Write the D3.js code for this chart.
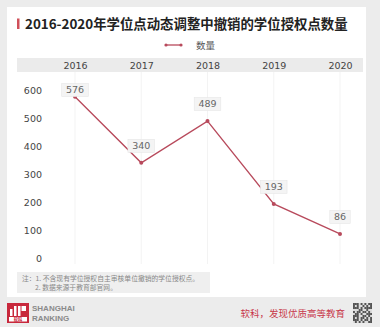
<!DOCTYPE html>
<html>
<head>
<meta charset="utf-8">
<script src="https://cdn.jsdelivr.net/npm/d3@7"></script>
<style>
  html, body { margin: 0; padding: 0; background: #ececec; }
  svg { display: block; }
</style>
</head>
<body>
<svg id="chart" width="380" height="327"></svg>
<script>
// Revoked degree-authorisation points, 2016–2020
const years = ["2016", "2017", "2018", "2019", "2020"];
const counts = [576, 340, 489, 193, 86];
const yTicks = [0, 100, 200, 300, 400, 500, 600];
const seriesName = "数量";
const titleText = "2016-2020年学位点动态调整中撤销的学位授权点数量";
const notes = ["注：1. 不含现有学位授权自主审核单位撤销的学位授权点。", "2. 数据来源于教育部官网。"];

const cjk = "'Noto Sans CJK SC', 'Noto Sans', sans-serif";
const num = "'DejaVu Sans', Verdana, sans-serif";
const lineColor = "#b84a5c";
const brandRed = "#c8283c";

const svg = d3.select("#chart");

// page background and white card
svg.append("rect").attr("width", 380).attr("height", 327).attr("fill", "#ececec");
svg.append("rect").attr("x", 7).attr("y", 7).attr("width", 359).attr("height", 290).attr("fill", "#ffffff");

// title with accent bar
svg.append("rect").attr("x", 17).attr("y", 18.5).attr("width", 2.5).attr("height", 10.5).attr("fill", "#d0505a");
svg.append("text").attr("x", 25).attr("y", 28.5)
  .attr("font-family", cjk).attr("font-weight", "bold").attr("font-size", 13.4)
  .attr("fill", "#222").text(titleText);

// legend
svg.append("line").attr("x1", 166).attr("x2", 181).attr("y1", 45).attr("y2", 45)
  .attr("stroke", lineColor).attr("stroke-width", 1.3);
svg.append("circle").attr("cx", 166).attr("cy", 45).attr("r", 1.6).attr("fill", lineColor);
svg.append("circle").attr("cx", 181).attr("cy", 45).attr("r", 1.6).attr("fill", lineColor);
svg.append("text").attr("x", 196).attr("y", 48.5)
  .attr("font-family", cjk).attr("font-size", 9.5).attr("fill", "#555").text(seriesName);

// scales
const x = d3.scalePoint().domain(years).range([75, 340]);
const y = d3.scaleLinear().domain([0, 600]).range([258, 90]);

// header band carrying the year labels
svg.append("rect").attr("x", 17).attr("y", 58).attr("width", 346).attr("height", 14).attr("fill", "#ebebeb");
const xAxis = d3.axisTop(x).tickSize(0).tickPadding(0);
const gx = svg.append("g").attr("transform", "translate(0,69)").call(xAxis);
gx.select(".domain").remove();
gx.selectAll("text").attr("font-family", num).attr("font-size", 9.5).attr("fill", "#444");

// faint vertical gridlines at each year
svg.append("g").selectAll("line").data(years).join("line")
  .attr("x1", d => x(d)).attr("x2", d => x(d))
  .attr("y1", 72).attr("y2", 264)
  .attr("stroke", "#f3f3f3").attr("stroke-width", 1);

// y axis labels
const yAxis = d3.axisLeft(y).tickValues(yTicks).tickSize(0).tickPadding(0);
const gy = svg.append("g").attr("transform", "translate(42,0)").call(yAxis);
gy.select(".domain").remove();
gy.selectAll("text").attr("font-family", num).attr("font-size", 9.5).attr("fill", "#444")
  .attr("text-anchor", "end");

// line and points
const data = years.map((yr, i) => ({ year: yr, value: counts[i] }));
const line = d3.line().x(d => x(d.year)).y(d => y(d.value));
svg.append("path").datum(data).attr("d", line)
  .attr("fill", "none").attr("stroke", lineColor).attr("stroke-width", 1.3);
svg.append("g").selectAll("circle").data(data).join("circle")
  .attr("cx", d => x(d.year)).attr("cy", d => y(d.value)).attr("r", 2)
  .attr("fill", lineColor);

// value labels in light boxes
const lbl = svg.append("g").selectAll("g").data(data).join("g")
  .attr("transform", d => `translate(${x(d.year)},${Math.max(y(d.value) - 17, 90)})`);
lbl.append("rect")
  .attr("x", d => -(String(d.value).length * 3.1 + 4))
  .attr("y", -6.5)
  .attr("width", d => String(d.value).length * 6.2 + 8)
  .attr("height", 13)
  .attr("fill", "#f4f4f4").attr("stroke", "#e6e6e6").attr("stroke-width", 0.6);
lbl.append("text").attr("text-anchor", "middle").attr("dy", "0.35em")
  .attr("font-family", num).attr("font-size", 9.5).attr("fill", "#666")
  .text(d => d.value);

// footnote box
svg.append("rect").attr("x", 17).attr("y", 272).attr("width", 193).attr("height", 21).attr("fill", "#efefef");
svg.append("text").attr("x", 22).attr("y", 281)
  .attr("font-family", cjk).attr("font-size", 6.8).attr("fill", "#888").text(notes[0]);
svg.append("text").attr("x", 35).attr("y", 290)
  .attr("font-family", cjk).attr("font-size", 6.8).attr("fill", "#888").text(notes[1]);

// brand mark
const logo = svg.append("g").attr("transform", "translate(7,303)");
logo.append("rect").attr("width", 22).attr("height", 20).attr("fill", brandRed);
logo.append("rect").attr("x", 3).attr("y", 6).attr("width", 2.5).attr("height", 7).attr("fill", "#fff");
logo.append("rect").attr("x", 7).attr("y", 3).attr("width", 2.5).attr("height", 10).attr("fill", "#fff");
logo.append("rect").attr("x", 11).attr("y", 3).attr("width", 2.5).attr("height", 10).attr("fill", "#fff");
logo.append("rect").attr("x", 14.5).attr("y", 3).attr("width", 4.5).attr("height", 5).attr("fill", "#fff");
logo.append("rect").attr("x", 2).attr("y", 14).attr("width", 18).attr("height", 4.5).attr("fill", "#fff");
logo.append("text").attr("x", 11).attr("y", 17.8).attr("text-anchor", "middle")
  .attr("font-family", cjk).attr("font-size", 4.2).attr("font-weight", "bold").attr("fill", brandRed).text("软科");
svg.append("text").attr("x", 32).attr("y", 311)
  .attr("font-family", "'Liberation Sans', Arial, sans-serif").attr("font-weight", "bold")
  .attr("font-size", 8).attr("fill", "#8a8a8a").text("SHANGHAI");
svg.append("text").attr("x", 32).attr("y", 321)
  .attr("font-family", "'Liberation Sans', Arial, sans-serif").attr("font-weight", "bold")
  .attr("font-size", 8).attr("fill", "#8a8a8a").text("RANKING");

// slogan
svg.append("text").attr("x", 345).attr("y", 317).attr("text-anchor", "end")
  .attr("font-family", cjk).attr("font-size", 9.5).attr("fill", "#c8384a").text("软科，发现优质高等教育");

// QR-style code block
const qr = svg.append("g").attr("transform", "translate(353,303)");
qr.append("rect").attr("width", 19).attr("height", 20).attr("fill", "#dcdcdc");
const qrRows = [
  "1110101011",
  "1010010101",
  "1110101111",
  "0001100100",
  "1011011010",
  "0110100111",
  "1110011010",
  "1010110101",
  "1110101101",
  "0101010011"
];
qrRows.forEach((row, r) => {
  row.split("").forEach((c, k) => {
    if (c === "1") qr.append("rect").attr("x", k * 1.9).attr("y", r * 2)
      .attr("width", 1.9).attr("height", 2).attr("fill", "#555");
  });
});
</script>
</body>
</html>
